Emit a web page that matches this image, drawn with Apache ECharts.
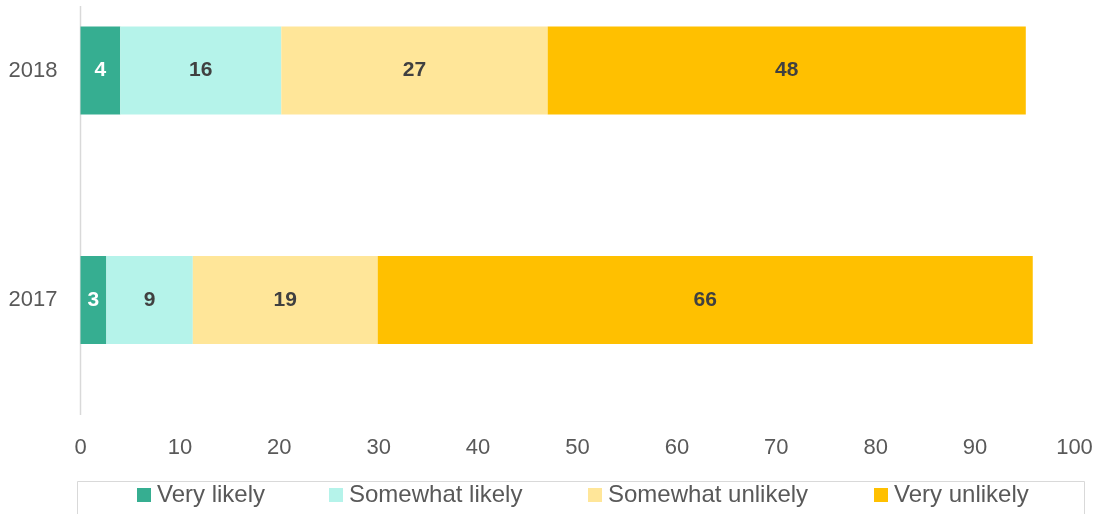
<!DOCTYPE html>
<html>
<head>
<meta charset="utf-8">
<script src="https://cdn.jsdelivr.net/npm/echarts@6/dist/echarts.min.js"></script>
<style>
html,body{margin:0;padding:0;background:#fff;}
#chart{width:1103px;height:514px;}
</style>
</head>
<body>
<div id="chart"></div>
<script>
const categories = ['2017', '2018'];
const seriesNames = ['Very likely', 'Somewhat likely', 'Somewhat unlikely', 'Very unlikely'];
const veryLikely = [2.6, 4.0];
const somewhatLikely = [8.7, 16.2];
const somewhatUnlikely = [18.6, 26.8];
const veryUnlikely = [65.9, 48.1];
const xTicks = [0, 10, 20, 30, 40, 50, 60, 70, 80, 90, 100];

const colors = ['#36AE91', '#B5F3EA', '#FFE699', '#FFC000'];
const labelColors = ['#ffffff', '#404040', '#404040', '#404040'];
const seriesData = [veryLikely, somewhatLikely, somewhatUnlikely, veryUnlikely];
const font = '"Liberation Sans", Arial, sans-serif';
const legendLefts = [137, 329, 588, 874];

const chart = echarts.init(document.getElementById('chart'), null, {renderer: 'canvas'});
chart.setOption({
  animation: false,
  backgroundColor: '#ffffff',
  grid: {left: 80.5, right: 28.5, top: 70.5, bottom: 214, containLabel: false},
  xAxis: {
    type: 'value', min: xTicks[0], max: xTicks[xTicks.length - 1], interval: 10,
    offset: 115,
    axisLine: {show: false}, axisTick: {show: false}, splitLine: {show: false},
    axisLabel: {color: '#595959', fontFamily: font, fontSize: 22, margin: 22}
  },
  yAxis: {
    type: 'category', data: categories, boundaryGap: false,
    axisLine: {show: false},
    axisTick: {show: false},
    axisLabel: {color: '#595959', fontFamily: font, fontSize: 22, margin: 23}
  },
  legend: seriesNames.map((n, i) => ({
    data: [n], left: legendLefts[i], top: 483, padding: 0,
    itemWidth: 14, itemHeight: 14, itemGap: 6, icon: 'rect',
    textStyle: {color: '#595959', fontFamily: font, fontSize: 24, padding: [0, 0, 0, 1]}
  })),
  graphic: [{
    type: 'line', shape: {x1: 80.5, y1: 6, x2: 80.5, y2: 415},
    style: {stroke: '#d9d9d9', lineWidth: 1.5}, silent: true
  }, {
    type: 'rect', shape: {x: 77.5, y: 481.5, width: 1007, height: 40},
    style: {fill: 'none', stroke: '#d9d9d9', lineWidth: 1}, silent: true
  }],
  series: seriesNames.map((n, i) => ({
    name: n, type: 'bar', stack: 'total', barWidth: 88, clip: false,
    data: seriesData[i],
    itemStyle: {color: colors[i]},
    label: {
      show: true, position: 'inside', color: labelColors[i],
      fontFamily: font, fontWeight: 'bold', fontSize: 21,
      formatter: p => String(Math.round(p.value))
    }
  }))
});
</script>
</body>
</html>
